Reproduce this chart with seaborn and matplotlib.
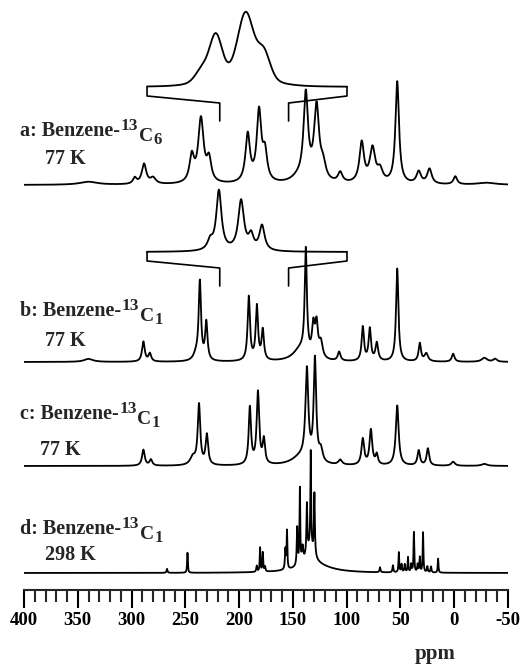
import numpy as np
import pandas as pd
import matplotlib
matplotlib.use("Agg")
import matplotlib.pyplot as plt
import seaborn as sns

# ---------------- data ----------------
# peak tables: position (ppm), height (arb. units), half width (ppm)
a_ppm = [340, 297, 288.4, 280, 244, 235.5, 228, 192, 181.5, 176, 145, 138, 128, 122, 106,
         86, 76, 69, 53, 33, 23, -1, -30]
a_int = [3, 6, 20, 6, 26, 64, 22, 48, 70, 28, 5, 86, 74, 15, 10,
         40, 34, 12, 102, 12, 15, 8, 2]
a_hw = [10, 2, 2.5, 3, 2.5, 3, 2.5, 2.5, 2.5, 2.5, 8, 2.5, 2.8, 3, 2.5,
        2.5, 3, 3, 2, 2.5, 2.5, 2, 10]

b_ppm = [340, 289, 283, 240, 236.5, 230.5, 191, 183.5, 178, 143, 138, 131, 128, 124, 107,
         85, 78.5, 72, 53, 32, 26, 1, -28, -38]
b_int = [3, 20, 8, 6, 78, 38, 64, 54, 30, 12, 104, 30, 32, 16, 9,
         34, 32, 18, 93, 18, 8, 8, 4, 3]
b_hw = [5, 1.5, 1.5, 3, 1.3, 1.3, 1.3, 1.3, 1.3, 8, 1.2, 1.5, 1.5, 2, 1.5,
        1.3, 1.3, 1.5, 1.3, 1.3, 2, 1.5, 3, 2]

c_ppm = [289, 282, 243, 237.3, 230, 190, 182.5, 177, 143, 137, 129.5, 124, 106,
         85, 77.5, 72, 53, 33, 24.5, 1, -28]
c_int = [16, 6, 8, 60, 30, 57, 72, 24, 8, 90, 102, 12, 5,
         26, 35, 10, 60, 15, 17, 4, 2]
c_hw = [1.5, 1.5, 3, 1.4, 1.4, 1.3, 1.4, 1.3, 10, 1.6, 1.4, 2, 2,
        1.5, 1.5, 1.3, 1.6, 1.4, 1.4, 2, 3]

d_ppm = [267, 248, 183.6, 180.5, 178, 176, 157, 155.5, 146, 143.5, 141, 137, 133.4, 130,
         134, 130, 69, 57, 51.5, 49, 46, 43, 40, 37.5, 34, 32, 29, 25, 21.6, 15]
d_int = [4, 20, 6, 24, 19, 5, 20, 38, 38, 75, 15, 50, 95, 62,
         18, 8, 5, 7, 20, 8, 8, 15, 8, 40, 8, 15, 40, 6, 6, 14]
d_hw = [0.5, 0.4, 0.5, 0.4, 0.4, 0.5, 0.5, 0.4, 0.5, 0.4, 0.8, 0.5, 0.4, 0.5,
        4, 18, 0.5, 0.5, 0.4, 0.5, 0.5, 0.4, 0.5, 0.4, 0.5, 0.4, 0.4, 0.5, 0.5, 0.4]

# expanded insets (range of the expansion in ppm and peaks inside it)
inset_range = [218, 154]
ia_ppm = [200.5, 196.0, 186.4, 180.6, 189.0]
ia_int = [12, 44, 64, 27, 10]
ia_hw = [2.5, 2.4, 3.0, 2.4, 10.0]
ib_ppm = [197.8, 195.0, 187.9, 184.7, 181.2]
ib_int = [9, 60, 50, 14, 25]
ib_hw = [1.0, 1.0, 1.1, 0.9, 1.0]

labels = ["a: Benzene-", "b: Benzene-", "c: Benzene-", "d: Benzene-"]
sup_labels = ["13", "13", "13", "13"]
sub_labels = ["6", "1", "1", "1"]
temps = ["77 K", "77 K", "77 K", "298 K"]
tick_values = [400, 350, 300, 250, 200, 150, 100, 50, 0, -50]
tick_labels = ["400", "350", "300", "250", "200", "150", "100", "50", "0", "-50"]
xlabel = "ppm"

# ---------------- layout (pixels) ----------------
W, H = 523, 666
offsets = [405, 228, 124, 17]           # baselines of a..d (axis units = px above axis)
inset_base = [503, 338]                 # baselines of the two expansions
inset_eta = [0.2, 1.0]                  # Lorentzian fraction of the line shape
inset_disp = [285.6, 99.7]              # where the expansions are drawn (main ppm scale)
label_pos = [(20, 136, 45, 164), (20, 316, 45, 346), (20, 419, 40, 455), (20, 534, 45, 560)]


def lineshape(x, centers, heights, widths, eta=1.0):
    y = np.zeros_like(x)
    for c, h, w in zip(centers, heights, widths):
        lor = 1.0 / (1.0 + ((x - c) / w) ** 2)
        gau = np.exp(-np.log(2) * ((x - c) / w) ** 2)
        y += h * (eta * lor + (1 - eta) * gau)
    return y


sns.set_style("white")
plt.rcParams["font.family"] = ["Liberation Serif", "DejaVu Serif"]
plt.rcParams["font.weight"] = "bold"
plt.rcParams["axes.unicode_minus"] = False

fig = plt.figure(figsize=(W / 100, H / 100), dpi=100)
ax = fig.add_axes([24 / W, 76 / H, 484 / W, 590 / H])
ax.set_xlim(400, -50)
ax.set_ylim(0, 590)

x = np.arange(400, -50.001, -0.05)
tables = [(a_ppm, a_int, a_hw), (b_ppm, b_int, b_hw), (c_ppm, c_int, c_hw), (d_ppm, d_int, d_hw)]
for (pp, ii, ww), off in zip(tables, offsets):
    df = pd.DataFrame({"ppm": x, "I": off + lineshape(x, pp, ii, ww)})
    sns.lineplot(data=df, x="ppm", y="I", ax=ax, color="black", lw=1.3,
                 estimator=None, sort=False)

# insets
xi = np.linspace(inset_range[0], inset_range[1], 1400)
disp = inset_disp[0] + (xi - inset_range[0]) / (inset_range[1] - inset_range[0]) * (inset_disp[1] - inset_disp[0])
for (pp, ii, ww), base, eta in zip([(ia_ppm, ia_int, ia_hw), (ib_ppm, ib_int, ib_hw)], inset_base, inset_eta):
    df = pd.DataFrame({"ppm": disp, "I": base + lineshape(xi, pp, ii, ww, eta)})
    sns.lineplot(data=df, x="ppm", y="I", ax=ax, color="black", lw=1.3,
                 estimator=None, sort=False)
    # brackets linking the expansion to its ppm range
    L, R = inset_disp
    r0, r1 = inset_range
    ax.plot([L, L, r0, r0], [base, base - 9, base - 16, base - 34], color="black", lw=1.2)
    ax.plot([r1, r1, R, R], [base - 34, base - 16, base - 9, base], color="black", lw=1.2)

# axis styling
for s in ["top", "left", "right"]:
    ax.spines[s].set_visible(False)
ax.spines["bottom"].set_linewidth(1.5)
ax.set_yticks([])
ax.set_xticks(tick_values)
ax.set_xticklabels(tick_labels, fontsize=13.5, fontweight="bold")
ax.set_xticks(np.arange(400, -51, -10), minor=True)
ax.tick_params(axis="x", which="major", direction="out", length=13, width=1.5, pad=3,
               bottom=True, colors="black")
ax.tick_params(axis="x", which="minor", direction="out", length=8.5, width=1.5, bottom=True)
ax.set_xlabel("")
ax.set_ylabel("")
fig.text(435 / W, 1 - 659 / H, xlabel, fontsize=15, fontweight="bold", ha="center", va="baseline")

# labels
renderer = fig.canvas.get_renderer()
for lab, sup, sub, tmp, (lx, lb, tx, tb) in zip(labels, sup_labels, sub_labels, temps, label_pos):
    t1 = fig.text(lx / W, 1 - lb / H, lab, fontsize=14.5, fontweight="bold", va="baseline")
    x1 = t1.get_window_extent(renderer).x1
    t2 = fig.text((x1 + 0.5) / W, 1 - (lb - 6) / H, sup, fontsize=12.5, fontweight="bold", va="baseline")
    x2 = t2.get_window_extent(renderer).x1
    t3 = fig.text((x2 + 0.5) / W, 1 - (lb + 5) / H, "C", fontsize=14, fontweight="bold", va="baseline")
    x3 = t3.get_window_extent(renderer).x1
    fig.text((x3 + 0.5) / W, 1 - (lb + 8) / H, sub, fontsize=12, fontweight="bold", va="baseline")
    fig.text(tx / W, 1 - tb / H, tmp, fontsize=14.5, fontweight="bold", va="baseline")

fig.savefig("out.png", dpi=100, facecolor="white")
